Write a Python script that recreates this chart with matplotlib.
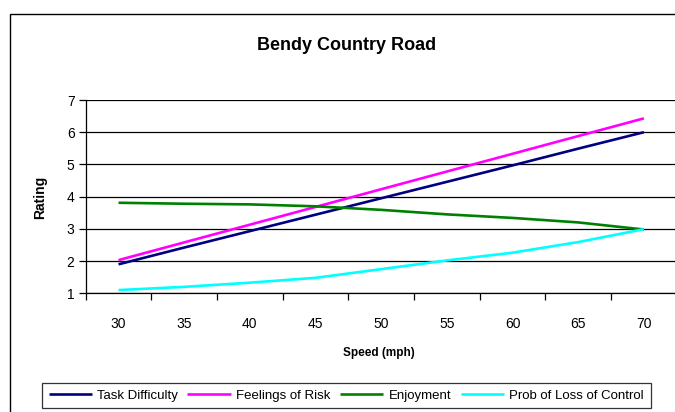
import matplotlib
matplotlib.use('Agg')
import matplotlib.pyplot as plt
from matplotlib.patches import Rectangle
from matplotlib.ticker import FixedLocator, NullFormatter, FixedFormatter

plt.rcParams['font.family'] = ['Liberation Sans', 'DejaVu Sans']

### Data
speed = [30, 35, 40, 45, 50, 55, 60, 65, 70]
task_difficulty = [1.90, 2.42, 2.93, 3.44, 3.95, 4.46, 4.97, 5.49, 6.00]
feelings_of_risk = [2.03, 2.58, 3.13, 3.68, 4.23, 4.78, 5.33, 5.88, 6.43]
enjoyment = [3.81, 3.78, 3.76, 3.70, 3.59, 3.45, 3.34, 3.20, 2.98]
loss_of_control = [1.10, 1.20, 1.33, 1.48, 1.75, 2.02, 2.26, 2.59, 2.99]

series_names = ['Task Difficulty', 'Feelings of Risk', 'Enjoyment', 'Prob of Loss of Control']
series_colours = ['#000080', '#ff00ff', '#008000', '#00ffff']
y_ticks = [1, 2, 3, 4, 5, 6, 7]

fig = plt.figure(figsize=(6.75, 4.12), dpi=100)
fig.patch.set_facecolor('white')

# outer chart border (only left and top are inside the picture)
fig.patches.append(Rectangle((10 / 675, -0.2), 1.5, 1.2 - 14 / 412,
                             transform=fig.transFigure, fill=False,
                             edgecolor='black', linewidth=1.0))

ax = fig.add_axes([85.7 / 675, 1 - 293.3 / 412, 591 / 675, 193.3 / 412])

# category axis: points sit in the middle of each category slot
pos = list(range(len(speed)))
all_series = [task_difficulty, feelings_of_risk, enjoyment, loss_of_control]
for values, name, colour in zip(all_series, series_names, series_colours):
    ax.plot(pos, values, color=colour, linewidth=1.9, label=name,
            solid_capstyle='butt')

ax.set_xlim(-0.5, len(speed) - 0.5)
ax.set_ylim(1, 7)

ax.xaxis.set_major_locator(FixedLocator([p - 0.5 for p in range(len(speed) + 1)]))
ax.xaxis.set_major_formatter(NullFormatter())
ax.xaxis.set_minor_locator(FixedLocator(pos))
ax.xaxis.set_minor_formatter(FixedFormatter([str(s) for s in speed]))
ax.tick_params(axis='x', which='major', direction='out', length=5, width=0.9)
ax.tick_params(axis='x', which='minor', length=0, pad=17, labelsize=10)

ax.set_yticks(y_ticks)
ax.tick_params(axis='y', direction='out', length=5, width=0.9, pad=3, labelsize=10)

ax.grid(axis='y', color='black', linewidth=0.9)
ax.set_axisbelow(True)
for side in ['top', 'right']:
    ax.spines[side].set_visible(False)
for side in ['left', 'bottom']:
    ax.spines[side].set_linewidth(0.9)

fig.text(0.514, 1 - 45 / 412, 'Bendy Country Road', ha='center', va='center',
         fontsize=13, fontweight='bold')
fig.text(40 / 675, 1 - 197 / 412, 'Rating', ha='center', va='center',
         rotation=90, fontsize=10, fontweight='bold')
fig.text(0.562, 1 - 353 / 412, 'Speed (mph)', ha='center', va='center',
         fontsize=8.5, fontweight='bold')

leg = fig.legend(loc='center', bbox_to_anchor=(0.513, 1 - 395.5 / 412), ncol=4,
                 fontsize=9.5, frameon=True, fancybox=False, handlelength=3.3,
                 columnspacing=0.7, handletextpad=0.4, borderpad=0.5,
                 borderaxespad=0)
leg.get_frame().set_edgecolor('black')
leg.get_frame().set_linewidth(0.9)

plt.savefig('out.png', dpi=100)
plt.close()
